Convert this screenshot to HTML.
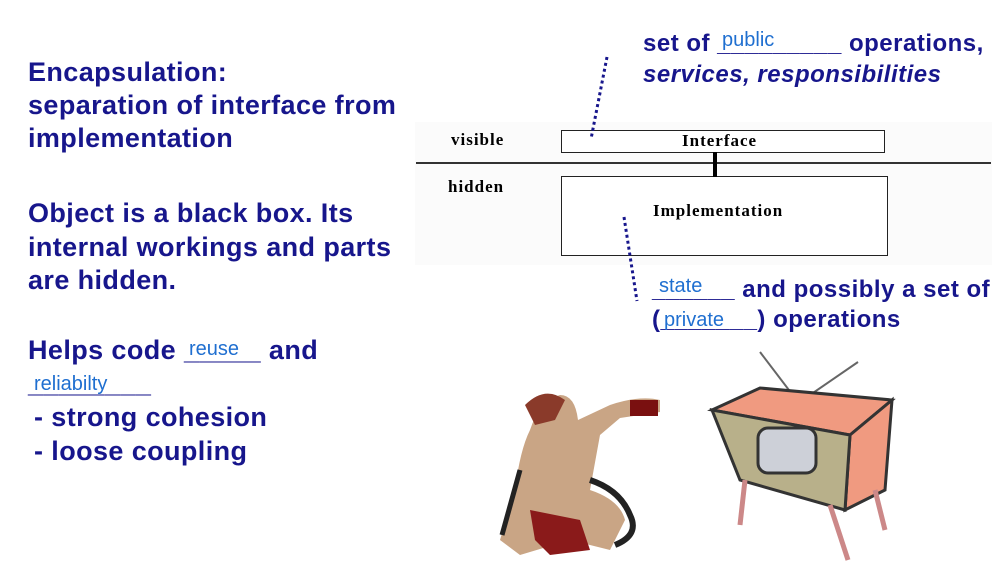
<!DOCTYPE html>
<html><head><style>
body{margin:0;width:1006px;height:565px;background:#fff;position:relative;overflow:hidden;font-family:"Liberation Sans",sans-serif}
.t{position:absolute;color:#17168c;font-weight:bold;font-size:27px;letter-spacing:0.4px;white-space:nowrap;line-height:28px}
.r{position:absolute;color:#17168c;font-weight:bold;font-size:24px;letter-spacing:0.5px;white-space:nowrap;line-height:26px}
.b{position:absolute;color:#1f6fd0;font-size:20px;white-space:nowrap;line-height:22px}
.s{position:absolute;font-family:"Liberation Serif",serif;font-weight:bold;font-size:17px;letter-spacing:1px;color:#000;white-space:nowrap}
.box{position:absolute;border:1.5px solid #222;background:#fff}
</style></head><body>
<div class="t" style="left:28px;top:58px">Encapsulation:</div>
<div class="t" style="left:28px;top:91px">separation of interface from</div>
<div class="t" style="left:28px;top:124px">implementation</div>
<div class="t" style="left:28px;top:199px">Object is a black box. Its</div>
<div class="t" style="left:28px;top:233px">internal workings and parts</div>
<div class="t" style="left:28px;top:266px">are hidden.</div>
<div class="t" style="left:28px;top:336px">Helps code _____ and</div>
<div class="b" style="left:189px;top:338px">reuse</div>
<div class="t" style="left:28px;top:369px">________</div>
<div class="b" style="left:34px;top:373px">reliabilty</div>
<div class="t" style="left:34px;top:403px">- strong cohesion</div>
<div class="t" style="left:34px;top:437px">- loose coupling</div>

<div style="position:absolute;left:415px;top:122px;width:577px;height:143px;background:#fbfbfb"></div>
<div style="position:absolute;left:416px;top:162px;width:575px;height:1.5px;background:#333"></div>
<div class="box" style="left:561px;top:130px;width:322px;height:21px"></div>
<div class="box" style="left:561px;top:176px;width:325px;height:78px"></div>
<div style="position:absolute;left:713px;top:152px;width:4px;height:25px;background:#000"></div>
<div class="s" style="left:451px;top:130px">visible</div>
<div class="s" style="left:448px;top:177px">hidden</div>
<div class="s" style="left:682px;top:131px">Interface</div>
<div class="s" style="left:653px;top:201px">Implementation</div>

<svg style="position:absolute;left:0;top:0" width="1006" height="565">
<line x1="607" y1="57" x2="591" y2="139" stroke="#17168c" stroke-width="3" stroke-dasharray="3,3"/>
<line x1="624" y1="217" x2="637" y2="301" stroke="#17168c" stroke-width="3" stroke-dasharray="3,3"/>
</svg>

<div class="r" style="left:643px;top:31px">set of _________ operations,</div>
<div class="b" style="left:722px;top:29px">public</div>
<div class="r" style="left:643px;top:62px;font-style:italic">services, responsibilities</div>
<div class="r" style="left:652px;top:277px">______ and possibly a set of</div>
<div class="b" style="left:659px;top:275px">state</div>
<div class="r" style="left:652px;top:307px">(_______) operations</div>
<div class="b" style="left:664px;top:309px">private</div>

<svg style="position:absolute;left:490px;top:340px" width="420" height="225">
<path d="M40 90 Q50 60 70 55 Q85 55 88 80 L120 65 Q150 55 170 60 L170 72 L130 78 L110 95 L100 150 Q130 160 135 180 L120 210 L80 200 L30 215 L10 200 L25 150 Q30 110 40 90Z" fill="#c9a585"/>
<path d="M40 170 L90 180 L100 210 L60 215 L45 200Z" fill="#8a1a1a"/>
<path d="M35 65 Q55 45 75 60 L65 80 L45 85Z" fill="#8a3a2a"/>
<rect x="140" y="60" width="28" height="16" fill="#7a1010"/>
<path d="M100 140 Q130 150 140 175 Q150 195 125 205" stroke="#222" stroke-width="6" fill="none"/>
<path d="M30 130 L12 195" stroke="#222" stroke-width="5" fill="none"/>
<line x1="270" y1="12" x2="305" y2="58" stroke="#666" stroke-width="2"/>
<line x1="368" y1="22" x2="320" y2="55" stroke="#666" stroke-width="2"/>
<path d="M222 70 L270 48 L402 60 L360 95 Z" fill="#f09a80" stroke="#333" stroke-width="3"/>
<path d="M360 95 L402 60 L395 150 L355 170 Z" fill="#f09a80" stroke="#333" stroke-width="3"/>
<path d="M222 70 L360 95 L355 170 L250 140 Z" fill="#b8b08a" stroke="#333" stroke-width="3"/>
<rect x="268" y="88" width="58" height="45" rx="10" fill="#cdd0d8" stroke="#333" stroke-width="3"/>
<line x1="255" y1="140" x2="250" y2="185" stroke="#c88" stroke-width="5"/>
<line x1="340" y1="165" x2="358" y2="220" stroke="#c88" stroke-width="5"/>
<line x1="385" y1="150" x2="395" y2="190" stroke="#c88" stroke-width="5"/>
</svg>
</body></html>
